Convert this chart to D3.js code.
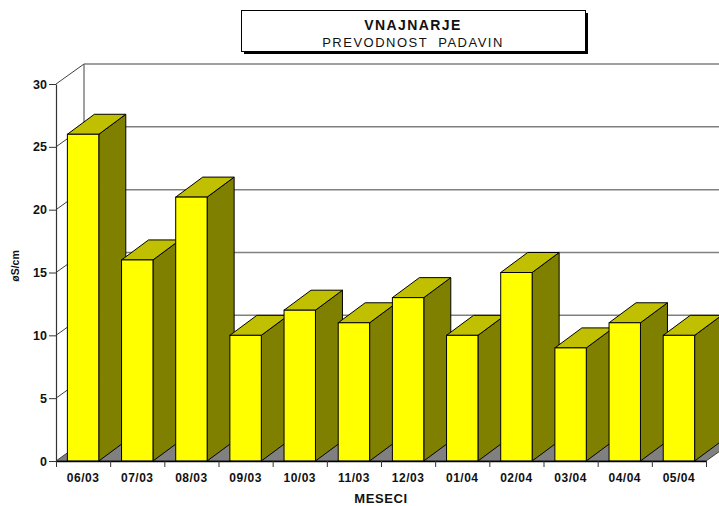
<!DOCTYPE html>
<html>
<head>
<meta charset="utf-8">
<script src="https://cdn.jsdelivr.net/npm/d3@7"></script>
<style>
  html, body { margin: 0; padding: 0; background: #fff; }
  svg { display: block; font-family: "Liberation Sans", Arial, sans-serif; }
</style>
</head>
<body>
<svg id="chart" width="719" height="506"></svg>
<script>
// Monthly precipitation conductivity
const months = ["06/03", "07/03", "08/03", "09/03", "10/03", "11/03", "12/03", "01/04", "02/04", "03/04", "04/04", "05/04"];
const conductivity = [26, 16, 21, 10, 12, 11, 13, 10, 15, 9, 11, 10];
const yTicks = [0, 5, 10, 15, 20, 25, 30];

const titleMain = "VNAJNARJE";
const titleSub = "PREVODNOST  PADAVIN";
const xTitle = "MESECI";
const yTitle = "øS/cm";

const svg = d3.select("#chart");

// Front plane of the 3D box
const x0 = 56, x1 = 706;
const yBottom = 461, yTop = 84;
// Depth offset of the back wall and of the bars
const wallDx = 28, wallDy = 20;
const barDx = 27, barDy = 20;

const x = d3.scaleBand().domain(months).range([x0, x1])
  .paddingInner(0.42).paddingOuter(0.21);
const xEdges = d3.scaleLinear().domain([0, months.length]).range([x0, x1]);
const y = d3.scaleLinear().domain([0, 30]).range([yBottom, yTop]);

const grey = "#808080";

// Floor
svg.append("polygon")
  .attr("points", [[x0, yBottom], [x1, yBottom], [x1 + wallDx, yBottom - wallDy], [x0 + wallDx, yBottom - wallDy]].join(" "))
  .attr("fill", grey)
  .attr("stroke", "#404040")
  .attr("stroke-width", 1);

// Back wall grid lines
svg.append("g").selectAll("line").data(yTicks.filter(d => d > 0)).join("line")
  .attr("x1", x0 + wallDx).attr("x2", x1 + wallDx)
  .attr("y1", d => y(d) - wallDy).attr("y2", d => y(d) - wallDy)
  .attr("stroke", grey).attr("stroke-width", 1.5);

// Back wall left edge
svg.append("line")
  .attr("x1", x0 + wallDx).attr("x2", x0 + wallDx)
  .attr("y1", y(30) - wallDy).attr("y2", y(0) - wallDy)
  .attr("stroke", grey).attr("stroke-width", 1.5);

// Side wall diagonals
svg.append("g").selectAll("line").data(yTicks.filter(d => d > 0)).join("line")
  .attr("x1", x0).attr("x2", x0 + wallDx)
  .attr("y1", d => y(d)).attr("y2", d => y(d) - wallDy)
  .attr("stroke", "#404040").attr("stroke-width", 1);

// Bars: front, top and side faces
const bw = x.bandwidth();
const bars = svg.append("g").selectAll("g").data(months.map((m, i) => ({ m, v: conductivity[i] }))).join("g");

bars.append("polygon")
  .attr("points", d => {
    const l = x(d.m), r = l + bw, t = y(d.v), b = y(0);
    return [[r, t], [r + barDx, t - barDy], [r + barDx, b - barDy], [r, b]].join(" ");
  })
  .attr("fill", "#808000").attr("stroke", "#000").attr("stroke-width", 1).attr("stroke-linejoin", "round");

bars.append("polygon")
  .attr("points", d => {
    const l = x(d.m), r = l + bw, t = y(d.v);
    return [[l, t], [l + barDx, t - barDy], [r + barDx, t - barDy], [r, t]].join(" ");
  })
  .attr("fill", "#C0C000").attr("stroke", "#000").attr("stroke-width", 1).attr("stroke-linejoin", "round");

bars.append("rect")
  .attr("x", d => x(d.m)).attr("width", bw)
  .attr("y", d => y(d.v)).attr("height", d => y(0) - y(d.v))
  .attr("fill", "#FFFF00").attr("stroke", "#000").attr("stroke-width", 1);

// Y axis
const yAxis = svg.append("g").attr("transform", `translate(${x0},0)`)
  .call(d3.axisLeft(y).tickValues(yTicks).tickSize(7).tickPadding(2).tickSizeOuter(0));
yAxis.select(".domain").attr("stroke", "#333").attr("stroke-width", 1.2);
yAxis.selectAll(".tick line").attr("stroke", "#333");
yAxis.selectAll(".tick text")
  .attr("font-size", 12.5).attr("font-weight", "bold").attr("fill", "#111")
  .attr("font-family", "Liberation Sans, Arial, sans-serif");

// X axis ticks at category boundaries
const xTickAxis = svg.append("g").attr("transform", `translate(0,${yBottom})`)
  .call(d3.axisBottom(xEdges).tickValues(d3.range(months.length + 1)).tickFormat("").tickSize(6).tickSizeOuter(0));
xTickAxis.select(".domain").attr("stroke", "#000").attr("stroke-width", 1.5);
xTickAxis.selectAll(".tick line").attr("stroke", "#333");

// X axis labels
const xLabelAxis = svg.append("g").attr("transform", `translate(0,${yBottom})`)
  .call(d3.axisBottom(x).tickSize(0).tickPadding(12.5));
xLabelAxis.select(".domain").remove();
xLabelAxis.selectAll(".tick text")
  .attr("font-size", 12).attr("font-weight", "bold").attr("fill", "#111")
  .attr("letter-spacing", 0.5)
  .attr("font-family", "Liberation Sans, Arial, sans-serif");

// Axis titles
svg.append("text")
  .attr("x", 381).attr("y", 503)
  .attr("text-anchor", "middle")
  .attr("font-size", 13).attr("font-weight", "bold").attr("letter-spacing", 0.6).attr("fill", "#111")
  .text(xTitle);

svg.append("text")
  .attr("transform", "translate(19,266) rotate(-90)")
  .attr("text-anchor", "middle")
  .attr("font-size", 10.5).attr("font-weight", "bold").attr("fill", "#111")
  .text(yTitle);

// Title box with drop shadow
svg.append("rect").attr("x", 244).attr("y", 13).attr("width", 344).attr("height", 41).attr("fill", "#000");
svg.append("rect").attr("x", 241.5).attr("y", 10.5).attr("width", 344).attr("height", 41)
  .attr("fill", "#fff").attr("stroke", "#000").attr("stroke-width", 1);

svg.append("text")
  .attr("x", 413).attr("y", 29.5).attr("text-anchor", "middle")
  .attr("font-size", 14).attr("font-weight", "bold").attr("letter-spacing", 1.4).attr("fill", "#111")
  .text(titleMain);

svg.append("text")
  .attr("x", 413).attr("y", 47).attr("text-anchor", "middle")
  .attr("font-size", 13).attr("letter-spacing", 1.5).attr("fill", "#111")
  .attr("xml:space", "preserve").style("white-space", "pre")
  .text(titleSub);
</script>
</body>
</html>
